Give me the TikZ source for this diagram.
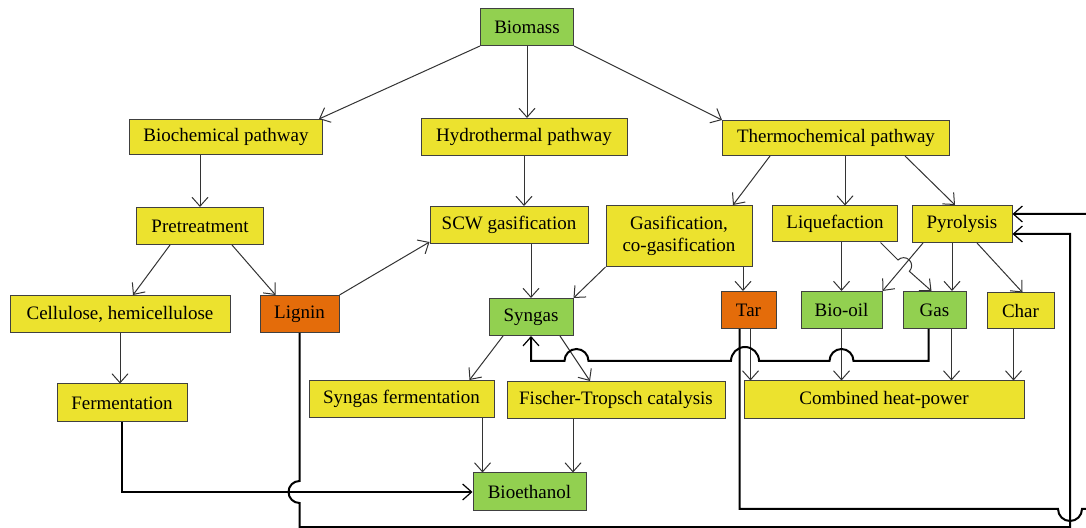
\documentclass[tikz,border=0pt]{standalone}
\usepackage{fontspec}
\setmainfont{Liberation Serif}
\usetikzlibrary{arrows.meta,positioning,calc}

\definecolor{leaf}{RGB}{146,208,80}
\definecolor{straw}{RGB}{236,226,46}
\definecolor{rust}{RGB}{228,108,10}

\begin{document}
\begin{tikzpicture}[
  x=0.5pt, y=-0.5pt,
  box/.style={
    draw=black!75, rectangle, line width=0.5pt,
    inner sep=2pt, align=center,
    font=\fontsize{9.5}{11}\selectfont
  },
  yel/.style={box, fill=straw},
  grn/.style={box, fill=leaf},
  org/.style={box, fill=rust},
  lnk/.style={-{Straight Barb[length=4.5pt,width=8pt]}, line width=0.5pt, draw=black!80},
  fb/.style={-{Straight Barb[length=4.5pt,width=8pt,line width=0.6pt]}, line width=1pt, draw=black},
]
\useasboundingbox (0,0) rectangle (1086,528);

%% top and pathways
\node[grn, minimum width=46.5pt, minimum height=18.5pt] (bio) at (527,27) {Biomass};
\node[yel, minimum width=96.5pt, minimum height=17.5pt] (bcp) at (226,137) {Biochemical pathway};
\node[yel, minimum width=103pt, minimum height=18.5pt] (htp) at (524,137) {Hydrothermal pathway};
\node[yel, minimum width=113.5pt, minimum height=17.5pt] (tcp) at (836,138) {Thermochemical pathway};

%% second row
\node[yel, minimum width=63.5pt, minimum height=18.5pt] (pre) at (200,226) {Pretreatment};
\node[yel, minimum width=79pt, minimum height=18.5pt] (scw) at (509,225) {SCW gasification};
\node[yel, minimum width=73pt, minimum height=30.5pt] (gasif) at (679,236)
  {Gasification,\\co-gasification};
\node[yel, minimum width=62.5pt, minimum height=18pt] (liq) at (835,224) {Liquefaction};
\node[yel, minimum width=50pt, minimum height=18.5pt] (pyr) at (962,224) {Pyrolysis};

%% products
\node[yel, minimum width=110pt, minimum height=18.5pt] (cell) at (120,314) {Cellulose, hemicellulose};
\node[org, minimum width=39.5pt, minimum height=18.5pt] (lig) at (299.5,314) {Lignin};
\node[grn, minimum width=42pt, minimum height=18.5pt] (syn) at (531,317) {Syngas};
\node[org, minimum width=27.5pt, minimum height=18.5pt] (tar) at (748.5,310) {Tar};
\node[grn, minimum width=40.5pt, minimum height=18.5pt] (oil) at (841.5,310) {Bio-oil};
\node[grn, minimum width=31.5pt, minimum height=18.5pt] (gas) at (934.5,310) {Gas};
\node[yel, minimum width=33.5pt, minimum height=18pt] (char) at (1020.5,311) {Char};

%% conversion
\node[yel, minimum width=65pt, minimum height=19pt] (ferm) at (122,403) {Fermentation};
\node[yel, minimum width=92.5pt, minimum height=18.5pt] (sfe) at (401.5,399) {Syngas fermentation};
\node[yel, minimum width=109pt, minimum height=18.5pt] (ftc) at (616,400) {Fischer-Tropsch catalysis};
\node[yel, minimum width=140pt, minimum height=19pt] (chp) at (884,400) {Combined heat-power};
\node[grn, minimum width=56.5pt, minimum height=19pt] (eth) at (529.5,492) {Bioethanol};

%% Biomass -> pathways
\draw[lnk] (bio.south west) -- ([xshift=-2pt]bcp.north east);
\draw[lnk] (bio.south) -- (bio.south |- htp.north);
\draw[lnk] (bio.south east) -- (tcp.north west);

%% pathways -> processes
\draw[lnk] (bcp.south -| pre.north) -- (pre.north);
\draw[lnk] (htp.south) -- (htp.south |- scw.north);
\draw[lnk] ([xshift=-33pt]tcp.south) -- ([xshift=27pt]gasif.north);
\draw[lnk] ([xshift=4.5pt]tcp.south) -- ([xshift=4.5pt]tcp.south |- liq.north);
\draw[lnk] ([xshift=34.5pt]tcp.south) -- ([xshift=-3.5pt]pyr.north);

%% processes -> products
\draw[lnk] ([xshift=-15pt]pre.south) -- ([xshift=6.5pt]cell.north);
\draw[lnk] ([xshift=16pt]pre.south) -- ([xshift=-12pt]lig.north);
\draw[lnk] (lig.north east) -- ([yshift=1pt]scw.south west);
\draw[lnk] (scw.south -| syn.north) -- (syn.north);
\draw[lnk] (gasif.south west) -- (syn.north east);
\draw[lnk] ([xshift=32pt]gasif.south) -- ([xshift=32pt]gasif.south |- tar.north);
\draw[lnk] (liq.south -| oil.north) -- (oil.north);
\draw[lnk] ([xshift=-8.75pt]liq.south east) -- (898,260)
  arc[start angle=135, end angle=-45, radius=4pt] -- ([xshift=-1.5pt]gas.north);
\draw[lnk] ([xshift=-19.5pt]pyr.south) -- (oil.north east);
\draw[lnk] ([xshift=-5pt]pyr.south) -- ([xshift=-5pt]pyr.south |- gas.north);
\draw[lnk] ([xshift=7.5pt]pyr.south) -- ([xshift=1pt]char.north);

%% products -> end uses
\draw[lnk] (cell.south) -- (cell.south |- ferm.north);
\draw[lnk] ([xshift=-14pt]syn.south) -- ([xshift=34pt]sfe.north);
\draw[lnk] ([xshift=14.5pt]syn.south) -- ([xshift=-13pt]ftc.north);
\draw[lnk] ([xshift=40.5pt]sfe.south) -- ([xshift=40.5pt]sfe.south |- eth.north);
\draw[lnk] ([xshift=-21.5pt]ftc.south) -- ([xshift=-21.5pt]ftc.south |- eth.north);
\draw[lnk] ([xshift=1pt]tar.south) -- ([xshift=1pt]tar.south |- chp.north);
\draw[lnk] (oil.south) -- (oil.south |- chp.north);
\draw[lnk] ([xshift=8.5pt]gas.south) -- ([xshift=8.5pt]gas.south |- chp.north);
\draw[lnk] ([xshift=-3.5pt]char.south) -- ([xshift=-3.5pt]char.south |- chp.north);

%% recycle lines
\draw[fb] (ferm.south) |- (eth.west);
\draw[fb] ([xshift=-3pt]gas.south) |- (853.5,361)
  arc[start angle=0, end angle=180, radius=6pt] -- (759,361)
  arc[start angle=0, end angle=180, radius=7pt] -- (588.5,361)
  arc[start angle=0, end angle=180, radius=6pt] -- (syn.south |- 0,361) -- (syn.south);
\draw[fb] (lig.south) -- (lig.south |- 0,481)
  arc[start angle=90, end angle=270, radius=5.5pt] -- (lig.south |- 0,527)
  -- (1070,527) |- ([yshift=-5pt]pyr.east);
\draw[fb] ([xshift=-4.5pt]tar.south) -- ([xshift=-4.5pt]tar.south |- 0,509) -- (1058,509)
  arc[start angle=180, end angle=360, radius=6pt] -- (1095,509) |- ([yshift=5pt]pyr.east);
\end{tikzpicture}
\end{document}
